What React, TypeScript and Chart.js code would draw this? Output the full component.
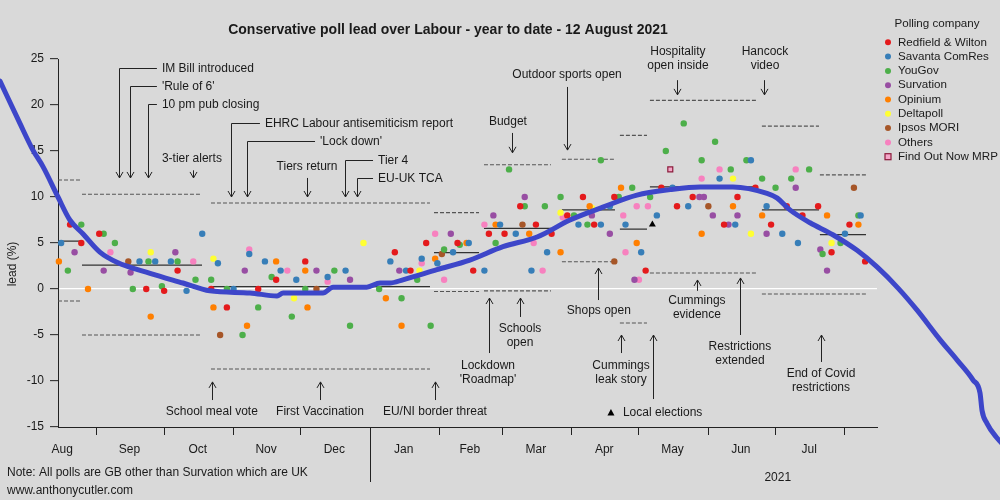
import { useEffect, useRef } from "react";
import { Chart, registerables } from "chart.js";
Chart.register(...registerables);

const FONT = "'Liberation Sans', Arial, Helvetica, sans-serif";
const TEXT = "#1a1a1a";

// x = days since 1 Aug 2020
const monthStarts = [31, 61, 92, 122, 153, 184, 212, 243, 273, 304, 334, 365];
const monthMids = [15.5, 45.5, 76, 106.5, 137, 168, 197.5, 227, 257.5, 288, 318.5, 349];
const monthLabels = ["Aug", "Sep", "Oct", "Nov", "Dec", "Jan", "Feb", "Mar", "Apr", "May", "Jun", "Jul"];
const yTicks = [-15, -10, -5, 0, 5, 10, 15, 20, 25];

const companies = ["Redfield & Wilton", "Savanta ComRes", "YouGov", "Survation", "Opinium", "Deltapoll", "Ipsos MORI", "Others"];
const companyColors = ["#E41A1C", "#377EB8", "#4DAF4A", "#984EA3", "#FF7F00", "#FFFF33", "#A65628", "#F781BF"];

const redfield = [[19,7],[24,5],[32,6],[53,0],[61,-0.2],[67,2],[82,0],[89,-2],[103,0],[111,1],[124,3],[164,4],[171,2],[178,5],[192,5],[199,2],[206,6],[213,6],[220,9],[227,7],[234,6],[241,8],[248,10],[253,7],[262,10],[276,2],[283,11],[290,9],[297,10],[311,7],[317,10],[325,11],[332,7],[339,9],[346,8],[353,9],[359,4],[367,7],[374,3]];
const savanta = [[15,5],[50,3],[57,3],[64,3],[71,-0.2],[78,6],[85,2.8],[92,0],[99,3.8],[106,3],[113,2],[120,1],[134,1.3],[142,2],[162,3],[169,2],[176,3.3],[183,2.8],[190,4],[197,5],[204,2],[211,7],[218,6],[225,2],[232,4],[246,7],[256,7],[260,9],[267,7],[274,4],[281,8],[288,11],[295,9],[309,12],[316,7],[323,14],[330,9],[337,6],[344,5],[365,6],[372,8]];
const yougov = [[18,2],[24,7],[34,6],[39,5],[47,0],[54,3],[60,0.3],[67,3],[75,1],[82,1],[89,0],[96,-5],[103,-2],[109,1.3],[118,-3],[124,0],[137,2],[144,-4],[157,0],[167,-1],[174,1],[180,-4],[186,4.3],[193,4.8],[209,5],[215,13],[222,9],[231,9],[238,10],[244,8],[250,7],[256,14],[264,10],[270,11],[278,10],[285,15],[293,18],[301,14],[307,16],[314,13],[321,14],[328,12],[334,11],[341,12],[349,13],[355,3.8],[363,5],[371,8]];
const survation = [[21,4],[34,2],[46,1.8],[66,4],[97,2],[129,2],[144,1],[166,2],[189,6],[208,8],[222,10],[252,8],[260,6],[271,1],[300,10],[302,10],[306,8],[313,7],[317,8],[330,6],[343,11],[354,4.3],[357,2]];
const opinium = [[14,3],[27,0],[55,-3],[83,-2],[98,-4],[111,3],[124,2],[125,-2],[160,-1],[167,-4],[182,3.3],[196,5],[209,7],[224,6],[238,4],[251,9],[265,11],[272,5],[301,6],[315,9],[328,8],[357,8],[371,7]];
const deltapoll = [[55,4],[83,3.3],[119,-1],[150,5],[175,2],[238,8.3],[252,8.8],[315,12],[323,6],[359,5]];
const ipsos = [[45,3],[86,-5],[129,0],[185,3.8],[221,7],[262,3],[304,9],[369,11]];
const others = [[37,4],[74,3],[99,4.3],[116,2],[134,0.8],[176,2.8],[182,6],[186,1],[204,7],[226,5],[230,2],[239,7.8],[266,8],[267,4],[272,9],[273,1],[277,9],[301,12],[309,13],[343,13]];
const companyPolls = [redfield, savanta, yougov, survation, opinium, deltapoll, ipsos, others];
const findOutNow = [[287,13]];
const localElections = [[279,7]];

const trendDays = [-12.3,-3.4,2.4,6.9,13.6,18.9,24.7,32.3,39.9,54.7,69.4,81.4,99.3,111.4,114.1,131.9,136.4,151.5,157.4,161.8,167.6,182.8,197.5,212.3,227.5,242.2,256.9,272.1,286.9,300.3,315.0,330.2,334.6,340.4,349.4,359.6,370.4,379.3,388.7,397.2,407.4,415.0,422.2,425.3,426.2,428.4,432.9,436.4];
const trendLead = [22.6,18.0,15.1,13.3,10.0,7.5,6.0,4.0,2.9,1.7,0.65,-0.2,-0.43,-0.76,-0.43,-0.43,0.2,0.2,0.65,0.65,1.0,2.1,3.15,4.6,5.65,7.5,8.9,10.2,10.8,11.1,11.1,10.4,9.9,8.6,7.2,5.9,4.2,2.4,0.1,-2.3,-5.5,-7.7,-9.9,-11.3,-13.2,-14.6,-16.2,-17.1];

const segStart = [13.6, 24.3, 81.9, 181.5, 203.8, 238.6, 264.5, 277.9, 327.9, 353.8];
const segEnd = [24.3, 77.9, 179.7, 201.6, 233.7, 262.3, 276.6, 325.7, 353.4, 374.4];
const segMean = [5.2, 2.6, 0.25, 3.95, 6.6, 8.6, 6.5, 11.1, 8.6, 5.9];
const segUpper = [11.85, 10.3, 9.35, 8.3, 13.5, 14.1, 16.7, 20.5, 17.7, 12.4];
const segLower = [-1.3, -5.0, -8.7, -0.27, -0.2, 2.97, -3.7, 1.74, -0.54, -0.54];

// elbow annotations
const elbowLabels = ["IM Bill introduced", "'Rule of 6'", "10 pm pub closing", "EHRC Labour antisemiticism report", "'Lock down'", "Tier 4", "EU-UK TCA"];
const elbowTextDay = [60, 60, 60, 106, 130.6, 156.5, 156.5];
const elbowTextLead = [24.0, 22.07, 20.1, 18.04, 16.1, 14.0, 12.07];
const elbowArrowDay = [40.8, 45.7, 53.8, 90.8, 98.0, 141.7, 147.1];
const elbowTipLead = [12.07, 12.07, 12.07, 10.0, 10.0, 10.0, 10.0];

// straight annotations
const eventLabels = ["3-tier alerts", "Tiers return", "Budget", "Outdoor sports open", "Hospitality\nopen inside", "Hancock\nvideo", "School meal vote", "First Vaccination", "EU/NI border threat", "Lockdown\n'Roadmap'", "Schools\nopen", "Shops open", "Cummings\nleak story", "", "Cummings\nevidence", "Restrictions\nextended", "End of Covid\nrestrictions"];
const eventTextDay = [73.4, 124.8, 214.5, 240.9, 290.4, 329.3, 82.3, 130.6, 181.9, 205.6, 219.9, 255.1, 265.0, 279.2, 298.9, 318.1, 354.3];
const eventTextLead = [14.2, 13.26, 18.15, 23.26, 25.76, 25.76, -13.37, -13.37, -13.37, -8.37, -4.35, -2.39, -8.37, -12, -1.3, -6.3, -9.24];
const eventArrowDay = [73.9, 124.8, 216.3, 240.9, 290.2, 328.8, 82.3, 130.6, 181.9, 206.0, 219.9, 254.7, 265.0, 279.2, 298.9, 318.1, 354.3];
const eventArrowFrom = [12.9, 12.07, 16.96, 21.96, 22.7, 22.7, -12.07, -12.07, -12.07, -6.96, -3.04, -1.2, -6.96, -11.96, -0.2, -5.0, -7.93];
const eventArrowTo = [12.07, 10.0, 14.8, 15.1, 21.1, 21.1, -10.1, -10.1, -10.1, -0.98, -0.98, 2.28, -5.0, -5.0, 0.98, 1.2, -5.0];

const localElectionsKeyDay = 260.5;
const localElectionsKeyLead = -13.48;

const X_MIN = 13.6;
const X_MAX = 379.3;

const toXY = (arr: number[][]) => arr.map(([x, y]) => ({ x, y }));

function segData(vals: number[]) {
  const out: any[] = [];
  vals.forEach((v, i) => {
    out.push({ x: segStart[i], y: v }, { x: segEnd[i], y: v }, { x: segEnd[i], y: null });
  });
  return out;
}

const annotatePlugin = {
  id: "annotate",
  afterDatasetsDraw(chart: any) {
    const ctx = chart.ctx as CanvasRenderingContext2D;
    const X = (d: number) => chart.scales.x.getPixelForValue(d);
    const Y = (v: number) => chart.scales.y.getPixelForValue(v);
    const r = (n: number) => Math.round(n) + 0.5;
    const area = chart.chartArea;
    ctx.save();
    ctx.strokeStyle = "#222";
    ctx.fillStyle = TEXT;
    ctx.lineWidth = 1;
    ctx.font = `12px ${FONT}`;
    ctx.textBaseline = "middle";

    const head = (x: number, y: number, dir: number) => {
      ctx.beginPath();
      ctx.moveTo(x - 3.5, y - dir * 6);
      ctx.lineTo(x, y);
      ctx.lineTo(x + 3.5, y - dir * 6);
      ctx.stroke();
    };

    elbowLabels.forEach((label, i) => {
      const tx = X(elbowTextDay[i]);
      const ty = r(Y(elbowTextLead[i]));
      const ax = r(X(elbowArrowDay[i]));
      const tip = Y(elbowTipLead[i]);
      ctx.beginPath();
      ctx.moveTo(tx - 5, ty);
      ctx.lineTo(ax, ty);
      ctx.lineTo(ax, tip);
      ctx.stroke();
      head(ax, tip, 1);
      ctx.textAlign = "left";
      ctx.fillText(label, tx, ty);
    });

    eventLabels.forEach((label, i) => {
      const ax = r(X(eventArrowDay[i]));
      const y0 = Y(eventArrowFrom[i]);
      const y1 = Y(eventArrowTo[i]);
      ctx.beginPath();
      ctx.moveTo(ax, y0);
      ctx.lineTo(ax, y1);
      ctx.stroke();
      head(ax, y1, y1 > y0 ? 1 : -1);
      if (label) {
        ctx.textAlign = "center";
        const tx = X(eventTextDay[i]);
        const ty = Y(eventTextLead[i]);
        label.split("\n").forEach((ln, k) => ctx.fillText(ln, tx, ty + k * 14));
      }
    });

    // local elections key
    const kx = X(localElectionsKeyDay);
    const ky = Y(localElectionsKeyLead);
    ctx.fillStyle = "#000";
    ctx.beginPath();
    ctx.moveTo(kx, ky - 4);
    ctx.lineTo(kx + 3.5, ky + 2.5);
    ctx.lineTo(kx - 3.5, ky + 2.5);
    ctx.closePath();
    ctx.fill();
    ctx.fillStyle = TEXT;
    ctx.textAlign = "left";
    ctx.fillText("Local elections", kx + 12, ky);

    // year separator
    const jx = r(X(153));
    ctx.beginPath();
    ctx.moveTo(jx, area.bottom);
    ctx.lineTo(jx, area.bottom + 55);
    ctx.stroke();
    ctx.textAlign = "center";
    ctx.fillText("2021", X(335), area.bottom + 51);

    // title
    ctx.font = `bold 14px ${FONT}`;
    ctx.fillText("Conservative poll lead over Labour - year to date - 12 August 2021", 448, 30);

    // notes
    ctx.font = `12px ${FONT}`;
    ctx.textAlign = "left";
    ctx.fillText("Note: All polls are GB other than Survation which are UK", 7, 473);
    ctx.fillText("www.anthonycutler.com", 7, 491);

    // y title
    ctx.save();
    ctx.translate(13, 264);
    ctx.rotate(-Math.PI / 2);
    ctx.textAlign = "center";
    ctx.fillText("lead (%)", 0, 0);
    ctx.restore();

    // legend
    ctx.font = `11.6px ${FONT}`;
    ctx.textAlign = "center";
    ctx.fillText("Polling company", 937, 24);
    ctx.textAlign = "left";
    const names = [...companies, "Find Out Now MRP"];
    names.forEach((n, i) => {
      const y = 42.3 + i * 14.3;
      if (i < companies.length) {
        ctx.fillStyle = companyColors[i];
        ctx.beginPath();
        ctx.arc(888, y, 3, 0, Math.PI * 2);
        ctx.fill();
      } else {
        ctx.fillStyle = "#f4a6c8";
        ctx.strokeStyle = "#8b1a3a";
        ctx.lineWidth = 1.2;
        ctx.fillRect(885, y - 3, 6, 6);
        ctx.strokeRect(885, y - 3, 6, 6);
      }
      ctx.fillStyle = TEXT;
      ctx.fillText(n, 898, y);
    });

    ctx.restore();
  },
};

export default function App() {
  const ref = useRef<HTMLCanvasElement | null>(null);

  useEffect(() => {
    if (!ref.current) return;
    Chart.defaults.font.family = FONT;
    Chart.defaults.color = TEXT;

    const datasets: any[] = [
      {
        label: "trend",
        data: trendDays.map((x, i) => ({ x, y: trendLead[i] })),
        showLine: true,
        borderColor: "#3d46c9",
        borderWidth: 5,
        pointRadius: 0,
        cubicInterpolationMode: "monotone",
        borderCapStyle: "round",
        borderJoinStyle: "round",
        clip: false,
        order: 0,
      },
      {
        label: "Local elections",
        data: toXY(localElections),
        pointStyle: "triangle",
        pointRadius: 4,
        pointBackgroundColor: "#000",
        pointBorderColor: "#000",
        pointBorderWidth: 0,
        order: -1,
      },
      {
        label: "mean",
        data: segData(segMean),
        showLine: true,
        borderColor: "#333",
        borderWidth: 1.3,
        pointRadius: 0,
        order: 3,
      },
      {
        label: "upper",
        data: segData(segUpper),
        showLine: true,
        borderColor: "#555",
        borderWidth: 1.1,
        borderDash: [4, 2],
        pointRadius: 0,
        order: 3,
      },
      {
        label: "lower",
        data: segData(segLower),
        showLine: true,
        borderColor: "#555",
        borderWidth: 1.1,
        borderDash: [4, 2],
        pointRadius: 0,
        order: 3,
      },
      ...companies.map((c, i) => ({
        label: c,
        data: toXY(companyPolls[i]),
        pointRadius: 3.2,
        pointBackgroundColor: companyColors[i],
        pointBorderWidth: 0,
        order: 2,
      })),
      {
        label: "Find Out Now MRP",
        data: toXY(findOutNow),
        pointStyle: "rect",
        pointRadius: 3.5,
        pointBackgroundColor: "#f4a6c8",
        pointBorderColor: "#8b1a3a",
        pointBorderWidth: 1.2,
        order: 1,
      },
    ];

    const chart = new Chart(ref.current, {
      type: "scatter",
      data: { datasets },
      plugins: [annotatePlugin],
      options: {
        animation: false,
        responsive: false,
        events: [],
        layout: { padding: { top: 59, right: 123, left: 0, bottom: 0 } },
        plugins: { legend: { display: false }, tooltip: { enabled: false }, title: { display: false } },
        scales: {
          x: {
            type: "linear",
            bounds: "data",
            afterDataLimits: (s: any) => {
              s.min = X_MIN;
              s.max = X_MAX;
            },
            afterBuildTicks: (s: any) => {
              s.ticks = [...monthStarts, ...monthMids].sort((a, b) => a - b).map((v) => ({ value: v }));
            },
            afterFit: (s: any) => {
              s.height = 73;
            },
            grid: {
              drawOnChartArea: false,
              drawTicks: true,
              tickLength: 8,
              tickWidth: 1,
              tickColor: (c: any) => (monthStarts.includes(c.tick?.value) ? "#222" : "rgba(0,0,0,0)"),
            },
            border: { color: "#222", width: 1 },
            ticks: {
              autoSkip: false,
              maxRotation: 0,
              minRotation: 0,
              padding: 7,
              color: TEXT,
              font: { size: 12, family: FONT },
              callback: (v: any) => {
                const k = monthMids.indexOf(Number(v));
                return k >= 0 ? monthLabels[k] : "";
              },
            },
          },
          y: {
            type: "linear",
            min: -15,
            max: 25,
            afterBuildTicks: (s: any) => {
              s.ticks = yTicks.map((v) => ({ value: v }));
            },
            afterFit: (s: any) => {
              s.width = 58;
            },
            grid: {
              color: (c: any) => (c.tick?.value === 0 ? "#ffffff" : "rgba(0,0,0,0)"),
              lineWidth: 1.3,
              tickColor: "#222",
              tickWidth: 1,
              tickLength: 8,
            },
            border: { color: "#222", width: 1 },
            ticks: {
              padding: 6,
              color: TEXT,
              font: { size: 12, family: FONT },
            },
          },
        },
      } as any,
    });
    return () => chart.destroy();
  }, []);

  return (
    <div style={{ position: "fixed", left: 0, top: 0, width: 1000, height: 500, background: "#d9d9d9" }}>
      <canvas ref={ref} width={1000} height={500} style={{ display: "block" }} />
    </div>
  );
}
